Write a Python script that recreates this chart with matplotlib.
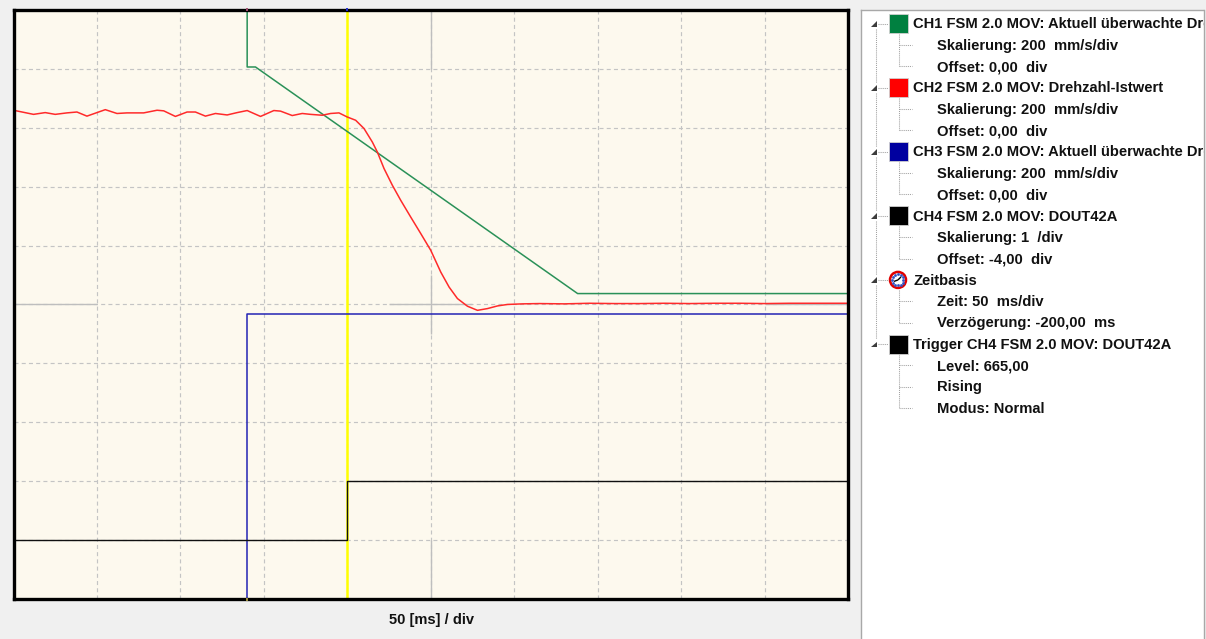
import matplotlib
matplotlib.use("Agg")
import matplotlib.pyplot as plt
from matplotlib.patches import Rectangle, Circle, Polygon
import numpy as np

# ---------------- data ----------------
ms_per_div = 50
delay_ms = -200
n_div_x = 10
n_div_y = 10
mms_per_div = 200

# CH1: monitored speed limit (mm/s)
ch1_t = [-60, -60, -55, 138, 300]
ch1_v = [1200, 807, 807, 37, 37]

# CH2: actual speed (mm/s)
ch2_t = [-200, -188, -181, -175, -168, -162, -156, -150, -145, -138, -132, -122,
         -114, -110, -103, -96, -91, -85, -79, -72, -66, -60, -52, -44, -40, -33,
         -27, -22, -15, -10, -5, 0, 5, 10, 15, 18, 22, 27, 32, 38, 44, 50, 56, 61,
         66, 72, 78, 84, 90, 96, 105, 115, 130, 145, 160, 175, 190, 205, 220, 235,
         250, 265, 280, 300]
ch2_v = [660, 646, 652, 646, 651, 654, 640, 652, 662, 649, 651, 651,
         660, 658, 639, 654, 654, 640, 649, 644, 652, 659, 639, 659, 657, 642,
         649, 646, 643, 649, 651, 637, 626, 598, 552, 518, 462, 405, 354, 297, 241, 184, 110, 59,
         20, -6, -20, -14, -5, 0, 2, 3, 2, 4, 3, 3, 4, 3, 4, 4,
         3, 4, 4, 4]

# CH3: monitored speed (lower) (mm/s)
ch3_t = [-200, -60, -60, 300]
ch3_v = [-1200, -1200, -34, -34]

# CH4: DOUT42A digital
ch4_t = [-200, 0, 0, 300]
ch4_v = [0, 0, 1, 1]
ch4_scale = 1
ch4_offset = -4

trigger_t = 0
cursor_t = -60

panel_rows = [
    (0, "CH1 FSM 2.0 MOV: Aktuell überwachte Drehzahl", "#008040"),
    (1, "Skalierung: 200  mm/s/div", None),
    (1, "Offset: 0,00  div", None),
    (0, "CH2 FSM 2.0 MOV: Drehzahl-Istwert", "#FF0000"),
    (1, "Skalierung: 200  mm/s/div", None),
    (1, "Offset: 0,00  div", None),
    (0, "CH3 FSM 2.0 MOV: Aktuell überwachte Drehzahl", "#0000A0"),
    (1, "Skalierung: 200  mm/s/div", None),
    (1, "Offset: 0,00  div", None),
    (0, "CH4 FSM 2.0 MOV: DOUT42A", "#000000"),
    (1, "Skalierung: 1  /div", None),
    (1, "Offset: -4,00  div", None),
    (0, "Zeitbasis", "clock"),
    (1, "Zeit: 50  ms/div", None),
    (1, "Verzögerung: -200,00  ms", None),
    (0, "Trigger CH4 FSM 2.0 MOV: DOUT42A", "#000000"),
    (1, "Level: 665,00", None),
    (1, "Rising", None),
    (1, "Modus: Normal", None),
]

# ---------------- style ----------------
plt.rcParams['font.family'] = ['Liberation Sans', 'DejaVu Sans']
plt.rcParams['lines.scale_dashes'] = False
plt.rcParams['lines.solid_capstyle'] = 'butt'

W, H = 1206, 639
fig = plt.figure(figsize=(W / 100, H / 100), dpi=100, facecolor='#F0F0F0')

x0, x1 = delay_ms, delay_ms + n_div_x * ms_per_div
y0, y1 = -n_div_y / 2, n_div_y / 2

ax = fig.add_axes([13.5 / W, 1 - 598.7 / H, 834.5 / W, 588.5 / H])
ax.set_facecolor('#FDF9EE')
ax.set_xlim(x0, x1)
ax.set_ylim(y0, y1)
ax.set_xticks([])
ax.set_yticks([])
for s in ax.spines.values():
    s.set_color('black')
    s.set_linewidth(2.4)
    s.set_zorder(10)

grid_c = '#C4C4C4'
gdash = (2.9, 2.3)
xc = (x0 + x1) / 2
for k in range(1, n_div_x):
    gx = x0 + k * ms_per_div
    ax.plot([gx, gx], [y0, y1], color=grid_c, lw=0.85, dashes=gdash, zorder=1)
for k in range(1, n_div_y):
    gy = y0 + k
    ax.plot([x0, x1], [gy, gy], color=grid_c, lw=0.85, dashes=gdash, zorder=1)
# solid parts of the centre cross
solid_c = '#BEBEBE'
for (a, b) in [(y1 - 1, y1), (-0.5, 0.5), (y0, y0 + 1)]:
    ax.plot([xc, xc], [a, b], color=solid_c, lw=1.0, zorder=1.1)
for (a, b) in [(x0, x0 + ms_per_div), (xc - ms_per_div / 2, xc + ms_per_div / 2),
               (x1 - ms_per_div, x1)]:
    ax.plot([a, b], [0, 0], color=solid_c, lw=1.0, zorder=1.1)

# trigger line
ax.plot([trigger_t, trigger_t], [y0, y1], color='#FFFF00', lw=1.8, zorder=2)

# traces
ax.plot(ch3_t, np.array(ch3_v) / mms_per_div, color='#2424B4', lw=1.1, zorder=3)
ax.plot(ch4_t, np.array(ch4_v) / ch4_scale + ch4_offset, color='#101010', lw=1.0, zorder=3)
ax.plot(ch1_t, np.array(ch1_v) / mms_per_div, color='#2A9158', lw=1.1, zorder=4)
ax.plot(ch2_t, np.array(ch2_v) / mms_per_div, color='#FF2A2A', lw=1.1, zorder=5)

# small cursor markers on the frame
ax.plot([cursor_t, cursor_t], [y1 - 0.02, y1 + 0.04], color='#A05070', lw=1.4, zorder=11, clip_on=False)
ax.plot([trigger_t, trigger_t], [y1 - 0.02, y1 + 0.04], color='#2030D0', lw=1.4, zorder=11, clip_on=False)
ax.plot([cursor_t, cursor_t], [y0 - 0.04, y0 + 0.02], color='#A09040', lw=1.4, zorder=11, clip_on=False)

fig.text(431.5 / W, 1 - 624 / H, f"{ms_per_div} [ms] / div", ha='center', va='baseline',
         fontsize=10.5, weight='bold', color='#111111')

# ---------------- side panel ----------------
px0, px1, py0 = 861, 1203.5, 10
pax = fig.add_axes([px0 / W, 0, (px1 - px0) / W, (H - py0) / H])
pax.set_xlim(px0, px1)
pax.set_ylim(H, py0)
pax.set_xticks([])
pax.set_yticks([])
pax.set_facecolor('white')
for name, s in pax.spines.items():
    s.set_color('#A8A8A8')
    s.set_linewidth(1.0)
pax.spines['bottom'].set_visible(False)

row_h = 21.36
base0 = 28.3
dot_c = '#A0A0A0'
ddash = (0.75, 0.75)
fs = 10.6

def yb(i):
    return base0 + i * row_h

def yc(i):
    return yb(i) - 4.7

headers = [i for i, r in enumerate(panel_rows) if r[0] == 0]

# left vertical dotted connector between headers
for a, b in zip(headers[:-1], headers[1:]):
    pax.plot([876, 876], [yc(a) + 5, yc(b) - 5], color=dot_c, lw=0.75, dashes=ddash)

for hi, h in enumerate(headers):
    end = headers[hi + 1] if hi + 1 < len(headers) else len(panel_rows)
    children = list(range(h + 1, end))
    if children:
        pax.plot([899.3, 899.3], [yc(h) + 10, yc(children[-1])], color=dot_c, lw=0.75, dashes=ddash)
        for c in children:
            pax.plot([899.3, 912], [yc(c), yc(c)], color=dot_c, lw=0.75, dashes=ddash)

for i, (lvl, label, col) in enumerate(panel_rows):
    if lvl == 0:
        c = yc(i)
        pax.add_patch(Polygon([(871.5, c + 3), (877, c + 3), (877, c - 2.5)], closed=True,
                              facecolor='#3C3C3C', edgecolor='none'))
        pax.plot([878, 888], [c, c], color=dot_c, lw=0.75, dashes=ddash)
        if col == 'clock':
            pax.add_patch(Circle((898, c), 8.0, facecolor='white', edgecolor='#E00000', lw=1.8, zorder=3))
            for ang in range(0, 360, 30):
                r = np.deg2rad(ang)
                pax.plot([898 + 5.5 * np.cos(r)], [c + 5.5 * np.sin(r)], marker='s', ms=0.9,
                         color='#3050C0', zorder=4)
            pax.plot([898, 894], [c, c + 1.5], color='black', lw=1.0, zorder=4)
            pax.plot([898, 901], [c, c - 3], color='black', lw=1.0, zorder=4)
        else:
            pax.add_patch(Rectangle((889, c - 9.5), 19, 19, facecolor=col, edgecolor='#D0D0D0',
                                    lw=0.6, zorder=3))
        pax.text(913.5, yb(i), label, ha='left', va='baseline', fontsize=fs, weight='bold',
                 color='#111111', clip_on=True)
    else:
        pax.text(937, yb(i), label, ha='left', va='baseline', fontsize=fs, weight='bold',
                 color='#111111', clip_on=True)

fig.savefig('out.png', dpi=100, facecolor=fig.get_facecolor())
